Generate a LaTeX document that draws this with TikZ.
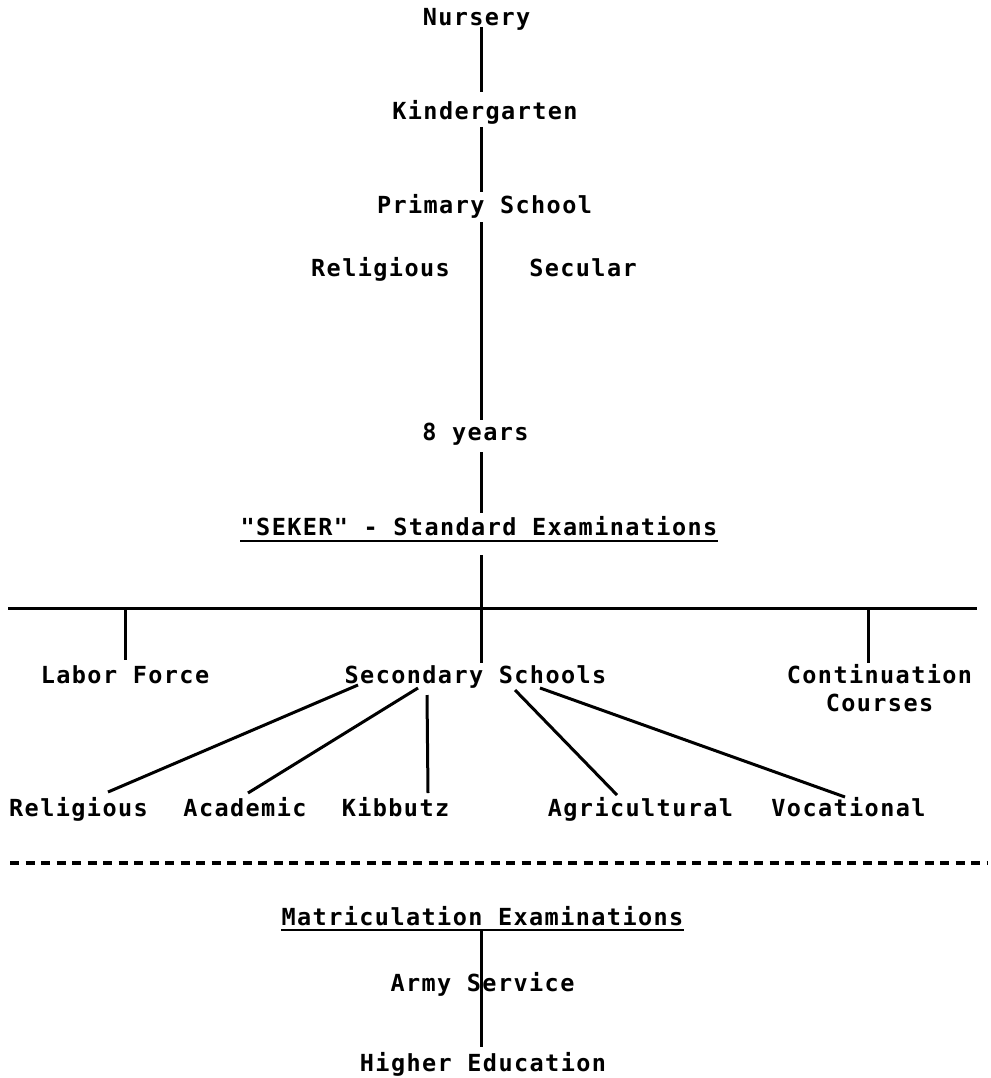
\documentclass[tikz,border=0pt]{standalone}
\usepackage{fontspec}
\setmonofont{DejaVu Sans Mono}[LetterSpace=6]
\usetikzlibrary{calc}
\begin{document}
\begin{tikzpicture}[x=1pt,y=-1pt,
  lbl/.style={font=\fontsize{23.5}{28}\selectfont\ttfamily\bfseries, inner sep=0pt, anchor=base},
  conn/.style={line width=3pt},
  uline/.style={line width=2.4pt},
  sep/.style={line width=3.5pt, dash pattern=on 9pt off 6.5pt}
]
\path[use as bounding box] (0,0) rectangle (990,1078);

% nodes
\node[lbl] (nursery) at (476.5,26) {Nursery};
\node[lbl] (kinder) at (485,120) {Kindergarten};
\node[lbl] (primary) at (484.5,213) {Primary School};
\node[lbl] (prel) at (380.5,276) {Religious};
\node[lbl] (psec) at (583,276) {Secular};
\node[lbl] (years) at (475.5,440) {8 years};
\node[lbl] (seker) at (479,535) {"SEKER" - Standard Examinations};
\node[lbl] (labor) at (125,683) {Labor Force};
\node[lbl] (second) at (475.5,683) {Secondary Schools};
\node[lbl, align=center] (cont) at (879.5,711) {Continuation\\Courses};
\node[lbl] (srel) at (78.5,816) {Religious};
\node[lbl] (acad) at (245,816) {Academic};
\node[lbl] (kib) at (395.5,816) {Kibbutz};
\node[lbl] (agri) at (640.5,816) {Agricultural};
\node[lbl] (voc) at (848.5,816) {Vocational};
\node[lbl] (matric) at (482.5,925) {Matriculation Examinations};
\node[lbl] (army) at (482.5,991) {Army Service};
\node[lbl] (higher) at (483,1071) {Higher Education};

\coordinate (sp) at (481,0);
\coordinate (hl) at (8,608);
\coordinate (hr) at (977,608);
\coordinate (dl) at (10,863);
\coordinate (dr) at (987,863);

% spine
\draw[conn] ($(nursery.base -| sp)+(0,1)$) -- ($(kinder.base -| sp)+(0,-28)$);
\draw[conn] ($(kinder.base -| sp)+(0,7)$) -- ($(primary.base -| sp)+(0,-21)$);
\draw[conn] ($(primary.base -| sp)+(0,9)$) -- ($(years.base -| sp)+(0,-20)$);
\draw[conn] ($(years.base -| sp)+(0,12)$) -- ($(seker.base -| sp)+(0,-22)$);
\draw[conn] ($(seker.base -| sp)+(0,20)$) -- ($(second.base -| sp)+(0,-20)$);

% horizontal branch line and ticks
\draw[conn] (hl) -- (hr);
\draw[conn] (labor.base |- hl) -- ($(labor.base)+(0,-23)$);
\draw[conn] ($(cont.base |- hl)+(-11.5,0)$) -- ($(cont.base)+(-11.5,-48)$);

% secondary school branches
\draw[conn] ($(second.base)+(-117.5,2)$) -- ($(srel.base)+(29.5,-24)$);
\draw[conn] ($(second.base)+(-57.5,5)$) -- ($(acad.base)+(3,-23)$);
\draw[conn] ($(second.base)+(-48.5,12)$) -- ($(kib.base)+(32.5,-23)$);
\draw[conn] ($(second.base)+(39.5,7)$) -- ($(agri.base)+(-23.5,-21)$);
\draw[conn] ($(second.base)+(64.5,5)$) -- ($(voc.base)+(-3.5,-19)$);

% separator
\draw[sep] (dl) -- (dr);

% underlines
\draw[uline] ($(seker.base west)+(0,6)$) -- ($(seker.base east)+(0,6)$);
\draw[uline] ($(matric.base west)+(0,5)$) -- ($(matric.base east)+(0,5)$);

% bottom chain
\draw[conn] ($(matric.base -| sp)+(0,6)$) -- (army.base -| sp) -- ($(higher.base -| sp)+(0,-24)$);
\end{tikzpicture}
\end{document}
